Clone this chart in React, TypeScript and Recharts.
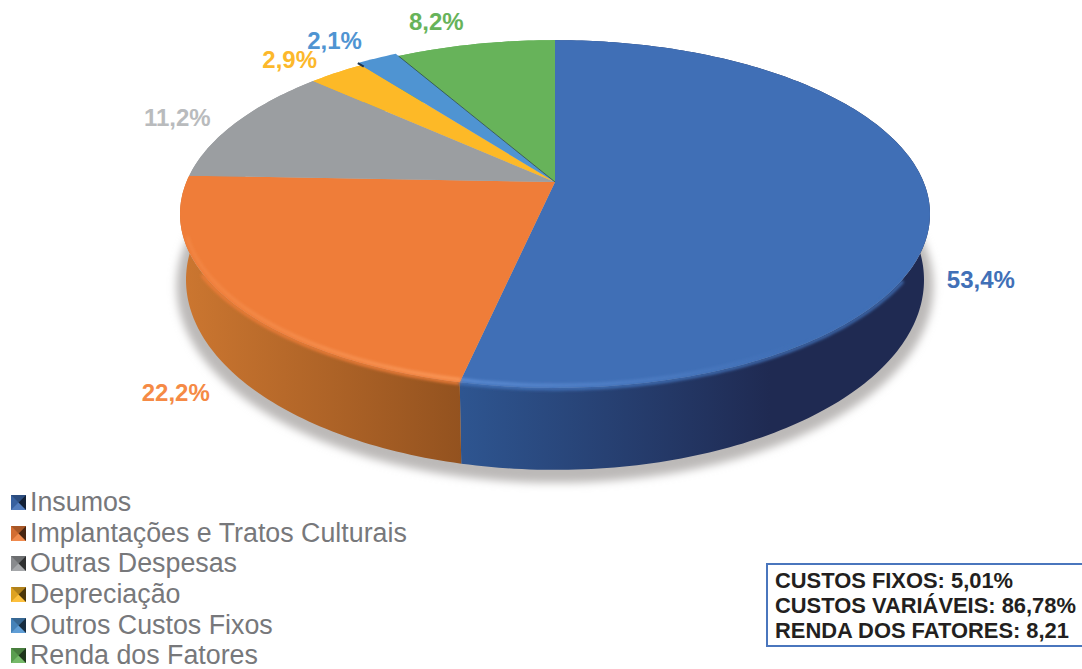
import { Legend, Pie, PieChart } from 'recharts';

const categories = [
  'Insumos',
  'Implantações e Tratos Culturais',
  'Outras Despesas',
  'Depreciação',
  'Outros Custos Fixos',
  'Renda dos Fatores',
];
const shares = [53.4, 22.2, 11.2, 2.9, 2.1, 8.2];
const faceColors = ['#406fb6', '#ef7d39', '#9b9ea1', '#fdb927', '#4f94d2', '#67b35a'];
const labelColors = ['#4170b7', '#f58a45', '#b9bbbd', '#fcb82b', '#4f94d2', '#67b35a'];
const summaryLines = ['CUSTOS FIXOS: 5,01%', 'CUSTOS VARIÁVEIS: 86,78%', 'RENDA DOS FATORES: 8,21'];

const rows = categories.map((name, i) => ({ name, value: shares[i], fill: faceColors[i] }));
const totalRow = [{ name: 'total', value: shares.reduce((a, b) => a + b, 0), fill: '#bcb9b8' }];

// label anchor relative to the slice's rim point
const labelOffsets = [
  [52, 79],
  [-51, 94],
  [-59, -5],
  [-47, -13],
  [-45, -20],
  [-39, -23],
];

// the disc is a circle under a perspective: same centre, flatter towards the back
const TOP = { a: 368.6, b: 168, k: 0.184, dy: 0 };
const BASE = { a: 362.7, b: 183.5, k: 0.184, dy: 63 };
const SHADOW = { a: 372, b: 190, k: 0.184, dy: 68 };
const RAISED = 4; // this slice sits a little proud of the others

type Plane = typeof TOP;

const project = (cx: number, cy: number, plane: Plane, deg: number, r = 1) => {
  const t = (deg * Math.PI) / 180;
  const u = r * Math.sin(t);
  const v = -r * Math.cos(t);
  const w = 1 - plane.k * v;
  return [cx + (plane.a * u) / w, cy + plane.dy + (plane.b * v) / w];
};

const arc = (cx: number, cy: number, plane: Plane, from: number, to: number, r = 1) => {
  const n = Math.max(2, Math.ceil(Math.abs(to - from)));
  const pts = [];
  for (let i = 0; i <= n; i++) {
    const p = project(cx, cy, plane, from + ((to - from) * i) / n, r);
    pts.push(`${p[0].toFixed(2)} ${p[1].toFixed(2)}`);
  }
  return pts;
};

const WallShape = (props: any) => {
  const { cx, cy, startAngle, endAngle, name, fill } = props;
  const i = categories.indexOf(name);
  const from = 90 - startAngle;
  const to = 90 - endAngle;
  const upper = arc(cx, cy, TOP, from, to);
  const lower = arc(cx, cy, BASE, to, from);
  return (
    <path
      d={`M${upper.join('L')}L${lower.join('L')}Z`}
      fill={i < 2 ? `url(#wall-${i})` : fill}
    />
  );
};

const TopShape = (props: any) => {
  const { cx, cy, startAngle, endAngle, name, fill } = props;
  const i = categories.indexOf(name);
  const from = 90 - startAngle;
  const to = 90 - endAngle;
  const r = i === RAISED ? 1.02 : 1;
  // the bevel only shows along the front of the disc
  const softFrom = Math.max(from, 122);
  const softTo = Math.min(to, 240);
  const rimFrom = Math.max(from, 112);
  const rimTo = Math.min(to, 252);
  const startInner = project(cx, cy, TOP, from, 0.985);
  const startOuter = project(cx, cy, TOP, from, 1.02);
  return (
    <g>
      <path d={`M${cx} ${cy}L${arc(cx, cy, TOP, from, to, r).join('L')}Z`} fill={fill} />
      {i < 2 && (
        <>
          <path
            d={`M${arc(cx, cy, TOP, softFrom, softTo, 1.004).join('L')}`}
            fill="none"
            stroke={fill}
            strokeWidth={3}
            filter="url(#soft)"
          />
          <path
            d={`M${arc(cx, cy, TOP, rimFrom, rimTo, 0.99).join('L')}`}
            fill="none"
            stroke={`url(#rim-${i})`}
            strokeWidth={3}
            filter="url(#soft)"
          />
        </>
      )}
      {i === RAISED && (
        <path
          d={`M${startInner[0]} ${startInner[1]}L${startOuter[0]} ${startOuter[1]}`}
          stroke="#1d3550"
          strokeWidth={2}
        />
      )}
      {i === RAISED + 1 && (
        <path
          d={`M${cx} ${cy}L${project(cx, cy, TOP, from).join(' ')}`}
          stroke="#2c4a50"
          strokeWidth={0.8}
        />
      )}
    </g>
  );
};

const ShadowShape = (props: any) => (
  <path
    d={`M${arc(props.cx, props.cy, SHADOW, 0, 360).join('L')}Z`}
    fill={props.fill}
    filter="url(#drop)"
  />
);

const renderLabel = (props: any) => {
  const { cx, cy, midAngle, name, value } = props;
  const i = categories.indexOf(name);
  const rim = project(cx, cy, TOP, 90 - midAngle);
  return (
    <text
      x={rim[0] + labelOffsets[i][0]}
      y={rim[1] + labelOffsets[i][1]}
      fill={labelColors[i]}
      fontFamily="Liberation Sans"
      fontWeight={700}
      fontSize={24}
      textAnchor="middle"
      dominantBaseline="central"
    >
      {`${value.toFixed(1).replace('.', ',')}%`}
    </text>
  );
};

const LegendIcon = ({ color }: { color: string }) => (
  <svg width={15} height={15} style={{ marginRight: 4, flex: 'none' }}>
    <rect width={15} height={15} fill={color} />
    <path d="M0 0L15 0L7.5 7.5Z" fill="#000" fillOpacity={0.3} />
    <path d="M0 0L7.5 7.5L0 15Z" fill="#000" fillOpacity={0.12} />
    <path d="M15 0L7.5 7.5L15 15Z" fill="#000" fillOpacity={0.7} />
    <path d="M0 15L7.5 7.5L15 15Z" fill="#fff" fillOpacity={0.1} />
  </svg>
);

const LegendList = ({ payload }: any) => (
  <div>
    {(payload || [])
      .filter((entry: any) => entry.type !== 'none')
      .map((entry: any) => (
        <div
          key={entry.value}
          style={{
            display: 'flex',
            alignItems: 'center',
            height: 30.7,
            fontFamily: 'Liberation Sans',
            fontSize: 26.8,
            color: '#77787b',
            whiteSpace: 'nowrap',
          }}
        >
          <LegendIcon color={entry.color} />
          {entry.value}
        </div>
      ))}
  </div>
);

const Summary = () => (
  <div
    style={{
      position: 'absolute',
      left: 766,
      top: 563,
      width: 330,
      height: 77,
      border: '2px solid #4a76bd',
      padding: '3px 0 0 7px',
      fontFamily: 'Liberation Sans',
      fontWeight: 700,
      fontSize: 21.9,
      lineHeight: '25px',
      color: '#231f20',
      whiteSpace: 'nowrap',
    }}
  >
    {summaryLines.map((line) => (
      <div key={line}>{line}</div>
    ))}
  </div>
);

export default function App() {
  return (
    <div
      style={{
        position: 'absolute',
        left: 0,
        top: 0,
        width: 1082,
        height: 669,
        overflow: 'hidden',
        background: '#fff',
      }}
    >
      <PieChart width={1082} height={669} margin={{ top: 0, right: 0, bottom: 0, left: 0 }}>
        <defs>
          <filter id="soft" filterUnits="userSpaceOnUse" x={0} y={0} width={1082} height={669}>
            <feGaussianBlur stdDeviation={1.6} />
          </filter>
          <filter id="drop" filterUnits="userSpaceOnUse" x={0} y={0} width={1082} height={669}>
            <feGaussianBlur stdDeviation={4.5} />
          </filter>
          <linearGradient id="wall-0" gradientUnits="userSpaceOnUse" x1={462} y1={0} x2={770} y2={0}>
            <stop offset="0%" stopColor="#2e5590" />
            <stop offset="100%" stopColor="#1f2a52" />
          </linearGradient>
          <linearGradient id="wall-1" gradientUnits="userSpaceOnUse" x1={185} y1={0} x2={462} y2={0}>
            <stop offset="0%" stopColor="#cb7630" />
            <stop offset="100%" stopColor="#93521f" />
          </linearGradient>
          <linearGradient id="rim-0" gradientUnits="userSpaceOnUse" x1={462} y1={0} x2={800} y2={0}>
            <stop offset="0%" stopColor="#5f8fd6" />
            <stop offset="100%" stopColor="#5f8fd6" stopOpacity={0} />
          </linearGradient>
          <linearGradient id="rim-1" gradientUnits="userSpaceOnUse" x1={180} y1={0} x2={462} y2={0}>
            <stop offset="0%" stopColor="#f99a5b" stopOpacity={0.3} />
            <stop offset="100%" stopColor="#fb9a5c" />
          </linearGradient>
        </defs>
        <Pie
          data={totalRow}
          dataKey="value"
          nameKey="name"
          cx={555}
          cy={182}
          outerRadius={168}
          startAngle={90}
          endAngle={-270}
          stroke="none"
          legendType="none"
          shape={ShadowShape}
          isAnimationActive={false}
        />
        <Pie
          data={rows}
          dataKey="value"
          nameKey="name"
          cx={555}
          cy={182}
          outerRadius={168}
          startAngle={90}
          endAngle={-270}
          stroke="none"
          legendType="none"
          shape={WallShape}
          isAnimationActive={false}
        />
        <Pie
          data={rows}
          dataKey="value"
          nameKey="name"
          cx={555}
          cy={182}
          outerRadius={168}
          startAngle={90}
          endAngle={-270}
          stroke="none"
          shape={TopShape}
          label={renderLabel}
          labelLine={false}
          isAnimationActive={false}
        />
        <Legend
          content={LegendList}
          itemSorter={null}
          layout="vertical"
          wrapperStyle={{ position: 'absolute', left: 11, top: 487, width: 420, height: 184 }}
        />
      </PieChart>
      <Summary />
    </div>
  );
}
